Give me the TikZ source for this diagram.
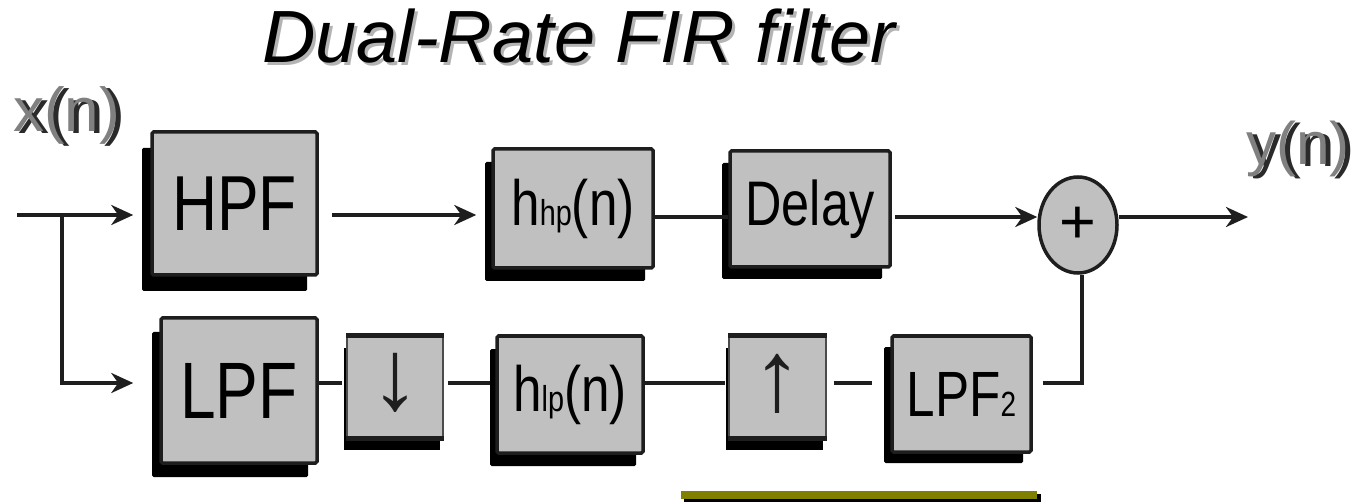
\documentclass[tikz,border=0pt]{standalone}
\usepackage{fontspec}
\setmainfont{Liberation Sans}
\newfontfamily\narrowsf[FakeStretch=0.8]{Liberation Sans}
\usetikzlibrary{arrows.meta,shadows,shapes.geometric}

\definecolor{boxgray}{HTML}{C0C0C0}
\definecolor{edge}{HTML}{1E1E1E}
\definecolor{olivebar}{HTML}{808000}
\definecolor{labelgray}{HTML}{808080}
\definecolor{labeldark}{HTML}{2A2A2A}
\definecolor{titleshade}{HTML}{B4B4B4}

\newcommand{\fs}[1]{\fontsize{#1}{#1}\selectfont}

\tikzset{
  block/.style={draw=edge, line width=3.5pt, fill=boxgray, rounded corners=1.5pt,
                inner sep=0pt, font=\narrowsf, text=black},
  rateblock/.style={draw=edge!80, line width=1.2pt, fill=boxgray,
                inner sep=0pt, text=edge},
  bar/.style={draw=edge, line width=5pt},
  sh/.style 2 args={drop shadow={shadow xshift=#1, shadow yshift=#2,
                fill=black, opacity=1}},
  wire/.style={draw=edge, line width=3.5pt},
  tip/.style={-{Stealth[length=22pt, width=20pt, inset=7pt]}},
  sumnode/.style={ellipse, draw=edge, line width=3.5pt, fill=boxgray, inner sep=0pt,
                minimum width=78pt, minimum height=96pt},
  lbl/.style={anchor=base west, inner sep=0pt}
}

\begin{document}
\begin{tikzpicture}[x=1pt, y=-1pt]
\useasboundingbox (0,0) rectangle (1359,502);

% title with its light drop shadow
\node[lbl, text=titleshade] (titleshadow) at (265,66) {\itshape\fs{74}Dual-Rate FIR filter};
\node[lbl, text=black] (title) at (262,63) {\itshape\fs{74}Dual-Rate FIR filter};

% input and output labels: dark copy behind, grey copy in front
\node[lbl, text=labeldark] (xinshadow) at (18,134) {\fs{62}x(n)};
\node[lbl, text=labelgray] (xin) at (13,132) {\fs{62}x(n)};
\node[lbl, text=labeldark] (youtshadow) at (1251,167) {\fs{60}y(n)};
\node[lbl, text=labelgray] (yout) at (1246,165) {\fs{60}y(n)};

% high-rate branch
\node[block, sh={-10pt}{-16pt}, minimum width=165pt, minimum height=143pt] (HPF) at (234.5,203.5) {\fs{78}HPF};
\node[block, sh={-8pt}{-13pt}, minimum width=160pt, minimum height=119pt] (hhp) at (573,208.5) {\fs{64}h\fs{36}hp\fs{64}(n)};
\node[block, sh={-8pt}{-12pt}, minimum width=160pt, minimum height=116pt] (delay) at (810,209) {\fs{63}Delay};

% low-rate branch
\node[block, sh={-9pt}{-14pt}, minimum width=156pt, minimum height=145pt] (LPF) at (239,390.5) {\fs{80}LPF};
\node[rateblock, sh={-3pt}{-12pt}, minimum width=96pt, minimum height=102pt] (down) at (395,387) {\raisebox{11pt}{\fs{100}↓}};
\node[block, sh={-7pt}{-13pt}, minimum width=146pt, minimum height=117pt] (hlp) at (570,394.5) {\fs{64}h\fs{36}lp\fs{64}(n)};
\node[rateblock, sh={-3pt}{-12pt}, minimum width=97pt, minimum height=102pt] (up) at (777.5,387) {\raisebox{9pt}{\fs{100}↑}};
\node[block, sh={-8pt}{-11pt}, minimum width=139pt, minimum height=116pt] (LPF2) at (961.5,394) {\fs{64}LPF\fs{35}2};

% heavy top and bottom edges of the rate changers
\draw[bar] (down.north west) -- (down.north east);
\draw[bar] (down.south west) -- (down.south east);
\draw[bar] (up.north west) -- (up.north east);
\draw[bar] (up.south west) -- (up.south east);

% adder
\node[sumnode] (sum) at (1078,225) {\fs{63}+\hspace{12pt}};

% connectors
\coordinate (in) at (17,215);
\coordinate (br) at (62,215);
\coordinate (rowa) at (0,217);
\coordinate (rowb) at (0,383);
\coordinate (out) at (1248,217);

\draw[wire, tip, shorten >=17pt] (in) -- (in -| HPF.west);
\draw[wire, tip, shorten >=26pt] (br) |- (rowb -| LPF.west);
\draw[wire, tip, shorten <=13pt, shorten >=15pt] (HPF.east |- in) -- (hhp.west |- in);
\draw[wire] (hhp.east |- rowa) -- (delay.west |- rowa);
\draw[wire, tip, shorten <=3pt] (delay.east |- rowa) -- (sum.west |- rowa);
\draw[wire, tip] (sum.east |- rowa) -- (out);

\draw[wire, shorten >=4pt] (LPF.east |- rowb) -- (down.west |- rowb);
\draw[wire, shorten <=4pt, shorten >=5pt] (down.east |- rowb) -- (hlp.west |- rowb);
\draw[wire, shorten >=3pt] (hlp.east |- rowb) -- (up.west |- rowb);
\draw[wire, shorten <=7pt, shorten >=18pt] (up.east |- rowb) -- (LPF2.west |- rowb);
\draw[wire, shorten <=10pt] (LPF2.east |- rowb) -| ([xshift=4pt]sum.south);

% olive rule along the lower edge
\fill[black] (684,494) rectangle (1041,503);
\fill[olivebar] (681,491) rectangle (1037,499);
\end{tikzpicture}
\end{document}
